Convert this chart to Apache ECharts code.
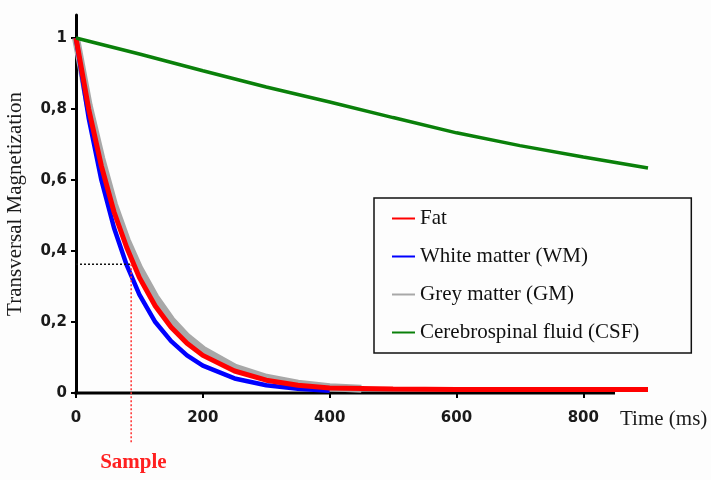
<!DOCTYPE html>
<html>
<head>
<meta charset="utf-8">
<script src="https://cdn.jsdelivr.net/npm/echarts@6/dist/echarts.min.js"></script>
<style>
  html, body { margin: 0; padding: 0; background: #fdfdfd; }
  #main { width: 711px; height: 480px; }
</style>
</head>
<body>
<div id="main"></div>
<script>
// time points (ms)
var timeFat = [0, 20, 40, 60, 80, 100, 125, 150, 175, 200, 250, 300, 350, 400, 500, 600, 700, 800, 902];
var fatVals = [1, 0.80, 0.64, 0.51, 0.41, 0.325, 0.245, 0.185, 0.14, 0.106, 0.062, 0.036, 0.022, 0.014, 0.011, 0.01, 0.01, 0.01, 0.01];

var timeWM = [0, 20, 40, 60, 80, 100, 125, 150, 175, 200, 250, 300, 350, 400];
var wmVals = [1, 0.775, 0.60, 0.465, 0.36, 0.277, 0.20, 0.146, 0.106, 0.077, 0.041, 0.022, 0.012, 0.006];

var timeGM = [0, 20, 40, 60, 80, 100, 125, 150, 175, 200, 250, 300, 350, 400, 450];
var gmVals = [1, 0.81, 0.66, 0.53, 0.43, 0.35, 0.27, 0.206, 0.158, 0.122, 0.072, 0.043, 0.026, 0.016, 0.012];

var timeCSF = [0, 100, 200, 300, 400, 500, 600, 700, 800, 902];
var csfVals = [1, 0.955, 0.908, 0.862, 0.82, 0.776, 0.733, 0.697, 0.665, 0.634];

var xTicks = [0, 200, 400, 600, 800];
var yTicks = [0, 0.2, 0.4, 0.6, 0.8, 1];
var xAxisEnd = 850;   // the drawn axis line stops here, the curves run on to 902
var sampleTime = 87;
var sampleMag = 0.363;

function pairs(xs, ys) {
  var out = [];
  for (var i = 0; i < xs.length; i++) out.push([xs[i], ys[i]]);
  return out;
}

var chart = echarts.init(document.getElementById('main'));
var serif = 'Liberation Serif';

chart.setOption({
  backgroundColor: '#fdfdfd',
  animation: false,
  grid: { left: 76, right: 63, top: 15, bottom: 87, containLabel: false, outerBoundsMode: 'none' },
  legend: {
    orient: 'vertical',
    left: 374,
    top: 198,
    data: ['Fat', 'White matter (WM)', 'Grey matter (GM)', 'Cerebrospinal fluid (CSF)'],
    icon: 'rect',
    itemWidth: 23,
    itemHeight: 2,
    itemGap: 17,
    padding: [10, 52, 10, 18],
    borderColor: '#111',
    borderWidth: 1.5,
    textStyle: { fontFamily: serif, fontSize: 21, color: '#111' }
  },
  xAxis: {
    type: 'value',
    min: 0,
    max: 902,
    splitLine: { show: false },
    axisLine: { show: false },
    axisTick: { length: 5, customValues: xTicks, lineStyle: { color: '#000', width: 2 } },
    axisLabel: { margin: 18, customValues: xTicks, fontFamily: 'DejaVu Sans', fontWeight: 'bold', fontSize: 15, color: '#1a1a1a' }
  },
  yAxis: {
    type: 'value',
    min: 0,
    max: 1.065,
    name: 'Transversal Magnetization',
    nameLocation: 'middle',
    nameGap: 50,
    nameTextStyle: { fontFamily: serif, fontSize: 21, color: '#1a1a1a' },
    splitLine: { show: false },
    axisLine: { show: true, lineStyle: { color: '#000', width: 3 } },
    axisTick: { show: true, length: 5, customValues: yTicks, lineStyle: { color: '#000', width: 2 } },
    axisLabel: {
      margin: 9,
      customValues: yTicks,
      fontFamily: 'DejaVu Sans', fontWeight: 'bold', fontSize: 15, color: '#1a1a1a',
      formatter: function (v) { return String(v).replace('.', ','); }
    }
  },
  series: [
    {
      name: 'Grey matter (GM)', type: 'line', showSymbol: false, z: 1,
      color: '#a8a8a8',
      lineStyle: { width: 8, color: '#a8a8a8' },
      data: pairs(timeGM, gmVals)
    },
    {
      name: 'White matter (WM)', type: 'line', showSymbol: false, z: 2,
      color: '#0000ff',
      lineStyle: { width: 4.5, color: '#0000ff' },
      data: pairs(timeWM, wmVals)
    },
    {
      name: 'Fat', type: 'line', showSymbol: false, z: 3,
      color: '#ff0000',
      lineStyle: { width: 5, color: '#ff0000' },
      data: pairs(timeFat, fatVals)
    },
    {
      name: 'Cerebrospinal fluid (CSF)', type: 'line', showSymbol: false, z: 4,
      color: '#0a800a',
      lineStyle: { width: 3.5, color: '#0a800a' },
      data: pairs(timeCSF, csfVals)
    }
  ]
});

// x axis line and dotted guide lines, placed through the chart's own scales
var pZero = chart.convertToPixel({ gridIndex: 0 }, [0, 0]);
var pEnd = chart.convertToPixel({ gridIndex: 0 }, [xAxisEnd, 0]);
var pOrigin = chart.convertToPixel({ gridIndex: 0 }, [0, sampleMag]);
var pSample = chart.convertToPixel({ gridIndex: 0 }, [sampleTime, sampleMag]);
var pBelow = chart.convertToPixel({ gridIndex: 0 }, [sampleTime, -0.14]);

chart.setOption({
  graphic: [
    {
      type: 'line', z: 0,
      shape: { x1: pZero[0] - 1.5, y1: pZero[1], x2: pEnd[0], y2: pEnd[1] },
      style: { stroke: '#000', lineWidth: 3 }
    },
    {
      type: 'line', z: 10,
      shape: { x1: pOrigin[0], y1: pOrigin[1], x2: pSample[0], y2: pSample[1] },
      style: { stroke: '#111', lineWidth: 1.5, lineDash: [2, 2] }
    },
    {
      type: 'line', z: 10,
      shape: { x1: pSample[0], y1: pSample[1], x2: pBelow[0], y2: pBelow[1] },
      style: { stroke: '#ff3030', lineWidth: 1.5, lineDash: [2, 2] }
    },
    {
      type: 'text', left: 620, top: 409,
      style: { text: 'Time (ms)', fontFamily: serif, fontSize: 21, fill: '#1a1a1a' }
    },
    {
      type: 'text', left: pSample[0] - 31, top: 452,
      style: { text: 'Sample', fontFamily: serif, fontSize: 21, fontWeight: 'bold', fill: '#ff2020' }
    }
  ]
});
</script>
</body>
</html>
